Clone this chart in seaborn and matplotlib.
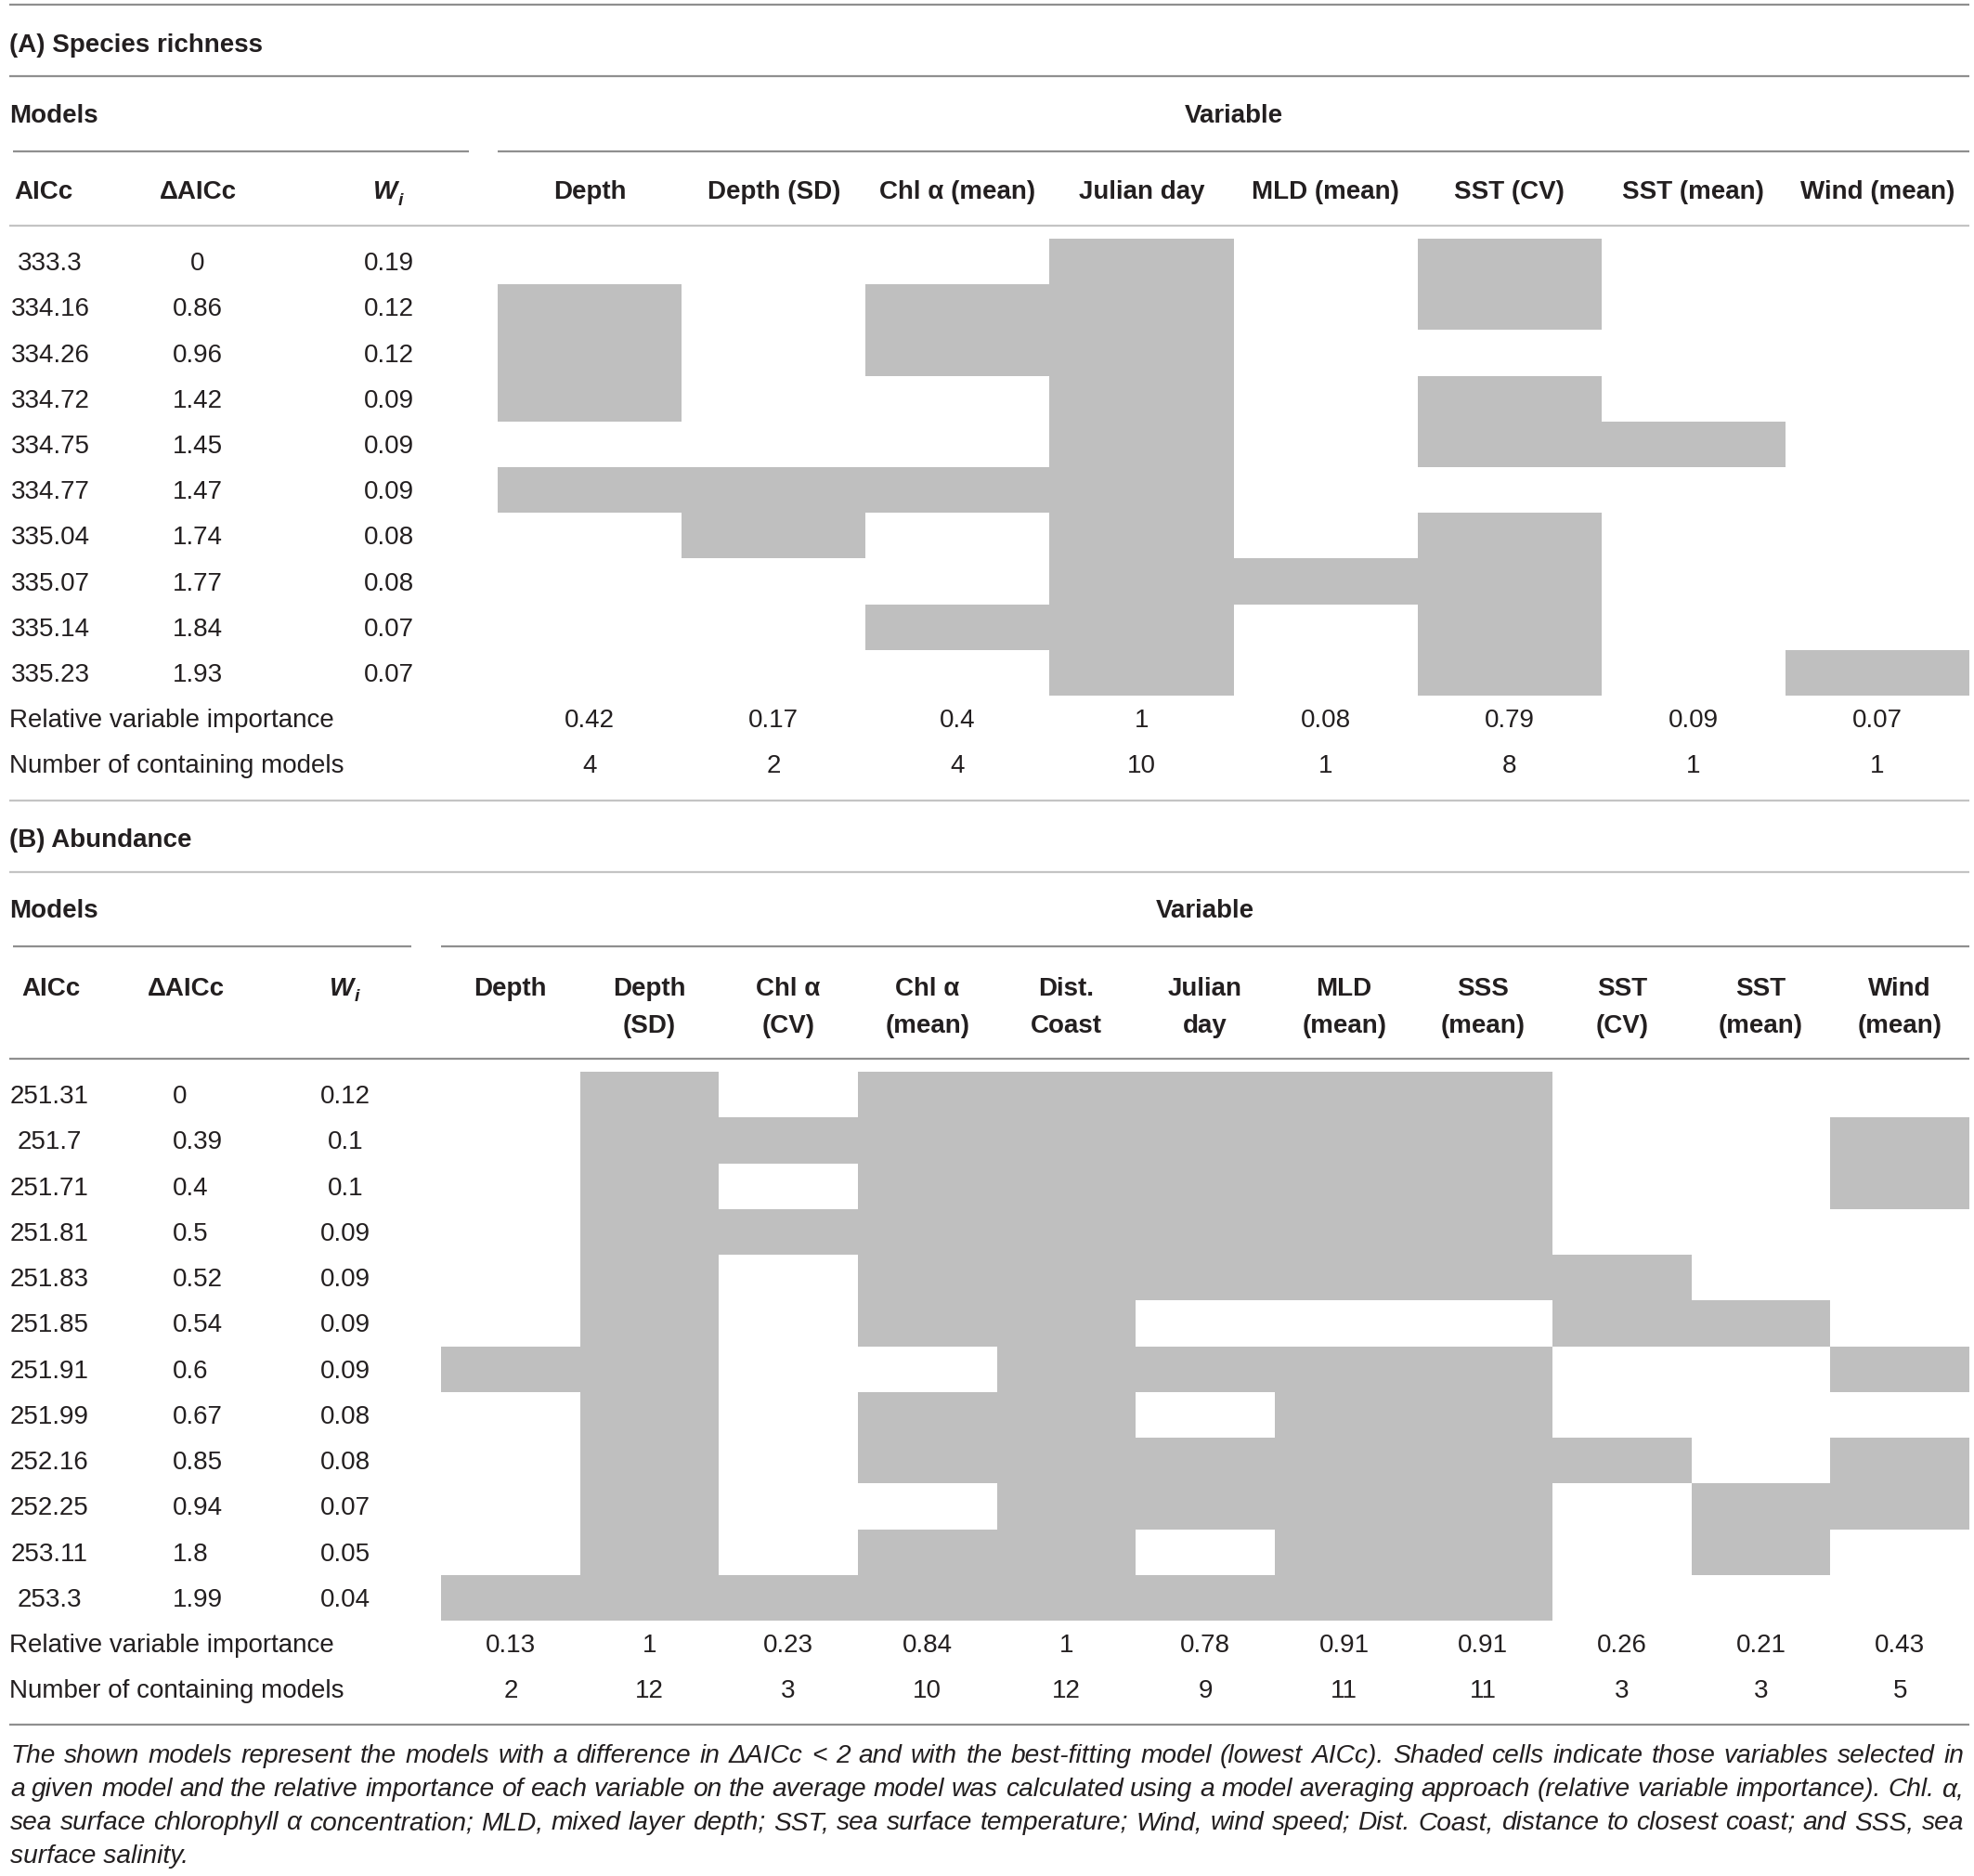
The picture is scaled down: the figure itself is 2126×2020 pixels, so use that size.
import numpy as np
import pandas as pd
import seaborn as sns
import matplotlib
matplotlib.use("Agg")
import matplotlib.pyplot as plt
from matplotlib.colors import ListedColormap

# ---------------- data ----------------
aicc_A = ["333.3", "334.16", "334.26", "334.72", "334.75", "334.77", "335.04", "335.07", "335.14", "335.23"]
daicc_A = ["0", "0.86", "0.96", "1.42", "1.45", "1.47", "1.74", "1.77", "1.84", "1.93"]
wi_A = ["0.19", "0.12", "0.12", "0.09", "0.09", "0.09", "0.08", "0.08", "0.07", "0.07"]
vars_A = ["Depth", "Depth (SD)", "Chl α (mean)", "Julian day", "MLD (mean)", "SST (CV)", "SST (mean)", "Wind (mean)"]
rvi_A = ["0.42", "0.17", "0.4", "1", "0.08", "0.79", "0.09", "0.07"]
n_A = [4, 2, 4, 10, 1, 8, 1, 1]
sel_A = [
    [0, 0, 0, 1, 0, 1, 0, 0],
    [1, 0, 1, 1, 0, 1, 0, 0],
    [1, 0, 1, 1, 0, 0, 0, 0],
    [1, 0, 0, 1, 0, 1, 0, 0],
    [0, 0, 0, 1, 0, 1, 1, 0],
    [1, 1, 1, 1, 0, 0, 0, 0],
    [0, 1, 0, 1, 0, 1, 0, 0],
    [0, 0, 0, 1, 1, 1, 0, 0],
    [0, 0, 1, 1, 0, 1, 0, 0],
    [0, 0, 0, 1, 0, 1, 0, 1],
]

aicc_B = ["251.31", "251.7", "251.71", "251.81", "251.83", "251.85", "251.91", "251.99", "252.16", "252.25", "253.11", "253.3"]
daicc_B = ["0", "0.39", "0.4", "0.5", "0.52", "0.54", "0.6", "0.67", "0.85", "0.94", "1.8", "1.99"]
wi_B = ["0.12", "0.1", "0.1", "0.09", "0.09", "0.09", "0.09", "0.08", "0.08", "0.07", "0.05", "0.04"]
vars_B = ["Depth", "Depth\n(SD)", "Chl α\n(CV)", "Chl α\n(mean)", "Dist.\nCoast", "Julian\nday",
          "MLD\n(mean)", "SSS\n(mean)", "SST\n(CV)", "SST\n(mean)", "Wind\n(mean)"]
rvi_B = ["0.13", "1", "0.23", "0.84", "1", "0.78", "0.91", "0.91", "0.26", "0.21", "0.43"]
n_B = [2, 12, 3, 10, 12, 9, 11, 11, 3, 3, 5]
sel_B = [
    [0, 1, 0, 1, 1, 1, 1, 1, 0, 0, 0],
    [0, 1, 1, 1, 1, 1, 1, 1, 0, 0, 1],
    [0, 1, 0, 1, 1, 1, 1, 1, 0, 0, 1],
    [0, 1, 1, 1, 1, 1, 1, 1, 0, 0, 0],
    [0, 1, 0, 1, 1, 1, 1, 1, 1, 0, 0],
    [0, 1, 0, 1, 1, 0, 0, 0, 1, 1, 0],
    [1, 1, 0, 0, 1, 1, 1, 1, 0, 0, 1],
    [0, 1, 0, 1, 1, 0, 1, 1, 0, 0, 0],
    [0, 1, 0, 1, 1, 1, 1, 1, 1, 0, 1],
    [0, 1, 0, 0, 1, 1, 1, 1, 0, 1, 1],
    [0, 1, 0, 1, 1, 0, 1, 1, 0, 1, 0],
    [1, 1, 1, 1, 1, 1, 1, 1, 0, 0, 0],
]

footnote = [
    "The shown models represent the models with a difference in ΔAICc < 2 and with the best-fitting model (lowest AICc). Shaded cells indicate those variables selected in",
    "a given model and the relative importance of each variable on the average model was calculated using a model averaging approach (relative variable importance). Chl. α,",
    "sea surface chlorophyll α concentration; MLD, mixed layer depth; SST, sea surface temperature; Wind, wind speed; Dist. Coast, distance to closest coast; and SSS, sea",
    "surface salinity.",
]

# ---------------- style ----------------
sns.set_theme(style="white")
plt.rcParams["font.family"] = ["Liberation Sans", "DejaVu Sans"]
TXT = "#231f20"
DARK = "#8f8f8f"
LIGHT = "#c4c4c4"
SHADE = "#bfbfbf"
FS = 20
DY = 2.5
cmap = ListedColormap(["white", SHADE])

W, H = 2126, 2020
fig = plt.figure(figsize=(W / 100, H / 100), dpi=100)
fig.patch.set_facecolor("white")
bg = fig.add_axes([0, 0, 1, 1])
bg.set_xlim(0, W)
bg.set_ylim(H, 0)
bg.axis("off")


def hline(y, x0, x1, c=DARK):
    bg.plot([x0, x1], [y, y], color=c, lw=1.6, solid_capstyle="butt")


def txt(x, y, s, ha="center", bold=False, **kw):
    bg.text(x, y + DY, s, ha=ha, va="center", fontsize=kw.pop("fs", FS), color=TXT,
            fontweight="bold" if bold else "normal", **kw)


def wi_header(xc, y):
    bg.text(xc + 9, y + DY, "W", ha="right", va="center", fontsize=FS, color=TXT,
            fontweight="bold", fontstyle="italic")
    bg.text(xc + 10, y + DY + 9, "i", ha="left", va="center", fontsize=14, color=TXT,
            fontweight="bold", fontstyle="italic")


def heat(sel, cols, x0, x1, y0, y1):
    ax = fig.add_axes([x0 / W, 1 - y1 / H, (x1 - x0) / W, (y1 - y0) / H])
    df = pd.DataFrame(sel, columns=[c.replace("\n", " ") for c in cols])
    sns.heatmap(df, ax=ax, cmap=cmap, vmin=0, vmax=1, cbar=False,
                xticklabels=False, yticklabels=False, linewidths=0)
    ax.axis("off")


XL, XR = 10, 2121

# ================= (A) Species richness =================
hline(5, XL, XR)
txt(10, 46, "(A) Species richness", ha="left", bold=True)
hline(82, XL, XR)
txt(10, 122, "Models", ha="left", bold=True)
ax0A, ax1A = 536, XR
txt((ax0A + ax1A) / 2, 122, "Variable", bold=True)
hline(163, 14, 505)
hline(163, ax0A, XR)

ytopA, rhA = 257, 49.2
nA = len(aicc_A)
cwA = (ax1A - ax0A) / len(vars_A)
txt(15, 205, "AICc", ha="left", bold=True)
txt(213, 205, "ΔAICc", bold=True)
wi_header(419, 205)
for j, v in enumerate(vars_A):
    txt(ax0A + cwA * (j + 0.5), 205, v, bold=True)
hline(243, XL, XR, LIGHT)

heat(sel_A, vars_A, ax0A, ax1A, ytopA, ytopA + rhA * nA)
for i in range(nA):
    yc = ytopA + rhA * (i + 0.5)
    txt(54, yc, aicc_A[i])
    txt(213, yc, daicc_A[i])
    txt(419, yc, wi_A[i])
y_rvi = ytopA + rhA * (nA + 0.5)
y_n = ytopA + rhA * (nA + 1.5)
txt(10, y_rvi, "Relative variable importance", ha="left")
txt(10, y_n, "Number of containing models", ha="left")
for j in range(len(vars_A)):
    xc = ax0A + cwA * (j + 0.5)
    txt(xc, y_rvi, rvi_A[j])
    txt(xc, y_n, str(n_A[j]))

# ================= (B) Abundance =================
hline(862, XL, XR, LIGHT)
txt(10, 902, "(B) Abundance", ha="left", bold=True)
hline(939, XL, XR, LIGHT)
txt(10, 978, "Models", ha="left", bold=True)
ax0B, ax1B = 475, XR
txt((ax0B + ax1B) / 2, 978, "Variable", bold=True)
hline(1019, 14, 443)
hline(1019, ax0B, XR)

ytopB, rhB = 1154, 49.25
nB = len(aicc_B)
cwB = (ax1B - ax0B) / len(vars_B)
txt(55, 1062, "AICc", bold=True)
txt(200, 1062, "ΔAICc", bold=True)
wi_header(372, 1062)
for j, v in enumerate(vars_B):
    for k, part in enumerate(v.split("\n")):
        txt(ax0B + cwB * (j + 0.5), 1062 + 41 * k, part, bold=True)
hline(1140, XL, XR, DARK)

heat(sel_B, vars_B, ax0B, ax1B, ytopB, ytopB + rhB * nB)
for i in range(nB):
    yc = ytopB + rhB * (i + 0.5)
    txt(53, yc, aicc_B[i])
    txt(186, yc, daicc_B[i], ha="left")
    txt(372, yc, wi_B[i])
y_rvi = ytopB + rhB * (nB + 0.5)
y_n = ytopB + rhB * (nB + 1.5)
txt(10, y_rvi, "Relative variable importance", ha="left")
txt(10, y_n, "Number of containing models", ha="left")
for j in range(len(vars_B)):
    xc = ax0B + cwB * (j + 0.5)
    txt(xc, y_rvi, rvi_B[j])
    txt(xc, y_n, str(n_B[j]))

hline(1857, XL, XR)

# ================= footnote (justified) =================
renderer = fig.canvas.get_renderer()
NX0, NX1 = 11, 2115
px_per_unit = fig.get_size_inches()[0] * fig.dpi / W  # 1.0


def width_of(s, fs):
    t = bg.text(0, 0, s, fontsize=fs, fontstyle="italic")
    w = t.get_window_extent(renderer=renderer).width / px_per_unit
    t.remove()
    return w


fs_note = min(18 * (NX1 - NX0) / width_of(line, 18) for line in footnote[:3])
for k, line in enumerate(footnote):
    y = 1891 + 36 * k
    words = line.split(" ")
    if k < len(footnote) - 1 and len(words) > 1:
        ws = [width_of(w_, fs_note) for w_ in words]
        gap = (NX1 - NX0 - sum(ws)) / (len(words) - 1)
        x = NX0
        for w_, ww in zip(words, ws):
            bg.text(x, y, w_, ha="left", va="center", fontsize=fs_note,
                    fontstyle="italic", color=TXT)
            x += ww + gap
    else:
        bg.text(NX0, y, line, ha="left", va="center", fontsize=fs_note,
                fontstyle="italic", color=TXT)

fig.savefig("out.png", dpi=100, facecolor="white")
